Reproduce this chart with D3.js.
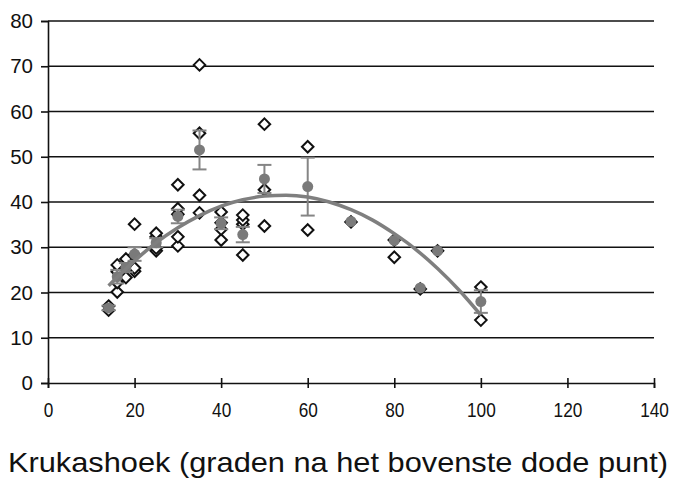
<!DOCTYPE html>
<html>
<head>
<meta charset="utf-8">
<script src="https://cdn.jsdelivr.net/npm/d3@7"></script>
<style>
  body { margin: 0; background: #fff; }
  svg { display: block; font-family: "Liberation Sans", Arial, sans-serif; }
</style>
</head>
<body>
<svg width="675" height="482"></svg>
<script>
// individual measurements (open diamonds)
const pointX = [14, 14, 16, 16, 16, 16, 18, 18, 20, 20, 20, 20, 25, 25, 25, 25,
    30, 30, 30, 30, 30, 35, 35, 35, 35, 40, 40, 40, 40, 45, 45, 45, 45,
    50, 50, 50, 60, 60, 70, 80, 80, 86, 90, 100, 100];
const pointY = [16.1, 17.0, 20.1, 22.2, 24.6, 26.1, 23.3, 27.4, 24.7, 25.4, 28.3, 35.1, 29.2, 29.8, 32.3, 33.1,
    30.3, 32.3, 37.3, 38.5, 43.8, 37.6, 41.5, 55.2, 70.3, 31.6, 34.0, 35.4, 37.8, 28.3, 35.1, 36.0, 37.1,
    34.7, 42.7, 57.2, 33.8, 52.2, 35.6, 27.8, 31.6, 20.8, 29.2, 13.9, 21.2];

// group means with error (half width)
const meanX = [14, 16, 18, 20, 25, 30, 35, 40, 45, 50, 60, 70, 80, 86, 90, 100];
const meanY = [16.6, 23.5, 25.5, 28.5, 31.0, 36.8, 51.5, 35.3, 32.8, 45.1, 43.4, 35.7, 31.5, 21.0, 29.2, 18.0];
const meanErr = [0.5, 1.5, 1.0, 1.5, 1.0, 1.5, 4.3, 1.3, 1.7, 3.1, 6.4, 0, 0, 0, 0, 2.5];

// trend curve
const curveX = [14, 20, 25, 30, 35, 40, 45, 50, 55, 60, 65, 70, 75, 80, 85, 90, 95, 100];
const curveY = [21.5, 27.0, 31.0, 34.3, 37.0, 39.1, 40.5, 41.3, 41.5, 41.1, 40.0, 38.3, 36.0, 33.0, 29.5, 25.3, 20.5, 15.0];

const xTicks = [0, 20, 40, 60, 80, 100, 120, 140];
const yTicks = [0, 10, 20, 30, 40, 50, 60, 70, 80];
const xTitle = "Krukashoek (graden na het bovenste dode punt)";

const svg = d3.select("svg");
const area = { left: 48, right: 654, top: 21, bottom: 383 };

const scX = d3.scaleLinear().domain([0, 140]).range([area.left, area.right]);
const scY = d3.scaleLinear().domain([0, 80]).range([area.bottom, area.top]);

// gridlines
svg.append("g")
    .selectAll("line")
    .data(yTicks.filter(d => d > 0))
    .enter()
    .append("line")
    .attr("x1", area.left)
    .attr("x2", area.right)
    .attr("y1", d => scY(d))
    .attr("y2", d => scY(d))
    .attr("stroke", "#111")
    .attr("stroke-width", 1.6);

// y axis
const axisY = svg.append("g")
    .attr("transform", `translate(${area.left},0)`)
    .call(d3.axisLeft(scY).tickValues(yTicks).tickSize(7).tickPadding(8));
axisY.select(".domain").attr("stroke", "#111").attr("stroke-width", 1.6);
axisY.selectAll(".tick line").attr("stroke", "#111").attr("stroke-width", 1.6);
axisY.selectAll("text").attr("font-size", 20.5).attr("fill", "#111")
    .attr("font-family", "Liberation Sans, Arial, sans-serif");

// x axis
const axisX = svg.append("g")
    .attr("transform", `translate(0,${area.bottom})`)
    .call(d3.axisBottom(scX).tickValues(xTicks).tickSize(5).tickPadding(14));
axisX.select(".domain").attr("stroke", "#111").attr("stroke-width", 1.6);
axisX.selectAll(".tick line").attr("stroke", "#111").attr("stroke-width", 1.6).attr("y1", -5);
axisX.selectAll("text").attr("font-size", 21).attr("fill", "#111")
    .attr("font-family", "Liberation Sans, Arial, sans-serif")
    .attr("transform", "scale(0.82,1)");

// open diamonds
const diamond = d3.symbol().type(d3.symbolDiamond2).size(85);
svg.append("g")
    .selectAll("path")
    .data(pointX.map((x, i) => ({ x: x, y: pointY[i] })))
    .enter()
    .append("path")
    .attr("d", diamond)
    .attr("transform", d => `translate(${scX(d.x)},${scY(d.y)})`)
    .attr("fill", "#fff")
    .attr("stroke", "#111")
    .attr("stroke-width", 2);

// means, error bars
const means = meanX.map((x, i) => ({ x: x, y: meanY[i], e: meanErr[i] }));
const errG = svg.append("g").attr("stroke", "#858585").attr("stroke-width", 2);
means.filter(d => d.e > 0).forEach(d => {
    errG.append("line")
        .attr("x1", scX(d.x)).attr("x2", scX(d.x))
        .attr("y1", scY(d.y - d.e)).attr("y2", scY(d.y + d.e));
    [d.y - d.e, d.y + d.e].forEach(v => {
        errG.append("line")
            .attr("x1", scX(d.x) - 7).attr("x2", scX(d.x) + 7)
            .attr("y1", scY(v)).attr("y2", scY(v));
    });
});

svg.append("g")
    .selectAll("circle")
    .data(means)
    .enter()
    .append("circle")
    .attr("cx", d => scX(d.x))
    .attr("cy", d => scY(d.y))
    .attr("r", 5.5)
    .attr("fill", "#7a7a7a");

// trend curve
const line = d3.line()
    .x(d => scX(d.x))
    .y(d => scY(d.y))
    .curve(d3.curveMonotoneX);
svg.append("path")
    .datum(curveX.map((x, i) => ({ x: x, y: curveY[i] })))
    .attr("fill", "none")
    .attr("stroke", "#7f7f7f")
    .attr("stroke-width", 3.5)
    .attr("d", line);

// axis title
const title = svg.append("text")
    .attr("x", 338)
    .attr("y", 472)
    .attr("text-anchor", "middle")
    .attr("font-size", 28)
    .attr("fill", "#111")
    .text(xTitle);
const w = title.node().getComputedTextLength();
if (w > 0) title.attr("textLength", 660).attr("lengthAdjust", "spacingAndGlyphs");
</script>
</body>
</html>
